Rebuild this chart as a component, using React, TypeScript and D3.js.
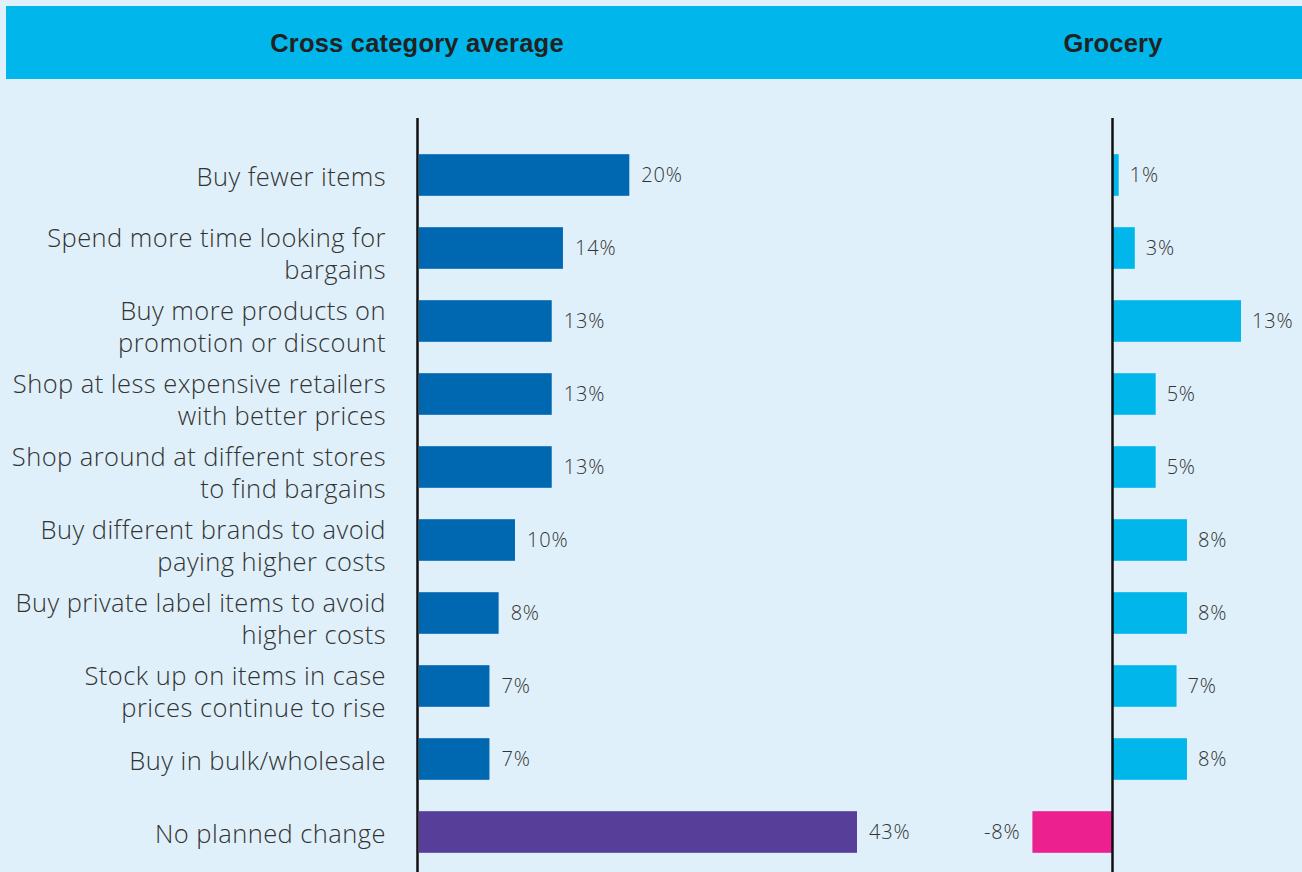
import React from "react";
import * as d3 from "d3";

const categories: string[][] = [
  ["Buy fewer items"],
  ["Spend more time looking for", "bargains"],
  ["Buy more products on", "promotion or discount"],
  ["Shop at less expensive retailers", "with better prices"],
  ["Shop around at different stores", "to find bargains"],
  ["Buy different brands to avoid", "paying higher costs"],
  ["Buy private label items to avoid", "higher costs"],
  ["Stock up on items in case", "prices continue to rise"],
  ["Buy in bulk/wholesale"],
  ["No planned change"],
];

const crossValues = [20.6, 14.1, 13.0, 13.0, 13.0, 9.4, 7.8, 6.9, 6.9, 42.9];
const crossLabels = ["20%", "14%", "13%", "13%", "13%", "10%", "8%", "7%", "7%", "43%"];

const groceryValues = [0.6, 2.3, 13.5, 4.5, 4.5, 7.8, 7.8, 6.7, 7.8, -8.5];
const groceryLabels = ["1%", "3%", "13%", "5%", "5%", "8%", "8%", "7%", "8%", "-8%"];

const headers = ["Cross category average", "Grocery"];

const W = 1302;
const H = 872;
const BG = "#DFF0FA";
const HEADER = "#00B6EB";
const DARK = "#0067B1";
const LIGHT = "#00B6EB";
const PURPLE = "#573E98";
const PINK = "#EC218F";
const TEXT = "#333333";
const LABEL_FONT = "'Open Sans', 'DejaVu Sans', sans-serif";
const HEAD_FONT = "'Liberation Sans', Arial, sans-serif";

export default function App() {
  const rowBand = d3
    .scaleBand<number>()
    .domain(d3.range(categories.length))
    .range([138.5, 868.5])
    .paddingInner(0.43)
    .paddingOuter(0.215);

  const xLeft = d3.scaleLinear().domain([0, 42.9]).range([419, 857]);
  const xRight = d3.scaleLinear().domain([0, 13.5]).range([1113, 1241]);

  const bh = rowBand.bandwidth();

  const labelProps = {
    textAnchor: "end" as const,
    fontFamily: LABEL_FONT,
    fontWeight: 300,
    fontSize: 25.5,
    letterSpacing: 0.45,
    fill: TEXT,
  };
  const valueProps = {
    fontFamily: LABEL_FONT,
    fontWeight: 300,
    fontSize: 20,
    letterSpacing: 0.8,
    fill: TEXT,
  };

  return (
    <svg
      width={W}
      height={H}
      style={{ position: "absolute", left: 0, top: 0, display: "block" }}
    >
      <rect x={0} y={0} width={W} height={H} fill={BG} />
      <rect x={6} y={6} width={W - 6} height={73} fill={HEADER} />
      {headers.map((h, k) => (
        <text
          key={h}
          x={k === 0 ? 417 : xRight(0)}
          y={51.7}
          textAnchor="middle"
          fontFamily={HEAD_FONT}
          fontWeight="bold"
          fontSize={25.5}
          letterSpacing={0.2}
          fill="#222"
        >
          {h}
        </text>
      ))}

      {categories.map((lines, i) => {
        const y0 = rowBand(i)!;
        const cy = y0 + bh / 2;
        const isLast = i === categories.length - 1;
        const lv = crossValues[i];
        const rv = groceryValues[i];
        const rx0 = Math.min(xRight(0), xRight(rv));
        const rw = Math.abs(xRight(rv) - xRight(0));
        return (
          <g key={i}>
            {lines.length === 1 ? (
              <text x={386} y={cy + 11} {...labelProps}>
                {lines[0]}
              </text>
            ) : (
              <text {...labelProps}>
                <tspan x={386} y={cy - 1}>
                  {lines[0]}
                </tspan>
                <tspan x={386} y={cy + 31}>
                  {lines[1]}
                </tspan>
              </text>
            )}
            <rect
              x={xLeft(0)}
              y={y0}
              width={xLeft(lv) - xLeft(0)}
              height={bh}
              fill={isLast ? PURPLE : DARK}
            />
            <text x={xLeft(lv) + 12} y={cy} dy="0.36em" {...valueProps}>
              {crossLabels[i]}
            </text>
            <rect
              x={rx0}
              y={y0}
              width={rw}
              height={bh}
              fill={rv < 0 ? PINK : LIGHT}
            />
            <text
              x={rv < 0 ? xRight(rv) - 12 : xRight(rv) + 11}
              y={cy}
              dy="0.36em"
              textAnchor={rv < 0 ? "end" : "start"}
              {...valueProps}
            >
              {groceryLabels[i]}
            </text>
          </g>
        );
      })}

      <line x1={xLeft(0) - 1.5} x2={xLeft(0) - 1.5} y1={118} y2={H} stroke="#111" strokeWidth={2.5} />
      <line x1={xRight(0) - 0.5} x2={xRight(0) - 0.5} y1={118} y2={H} stroke="#111" strokeWidth={2.5} />
    </svg>
  );
}
